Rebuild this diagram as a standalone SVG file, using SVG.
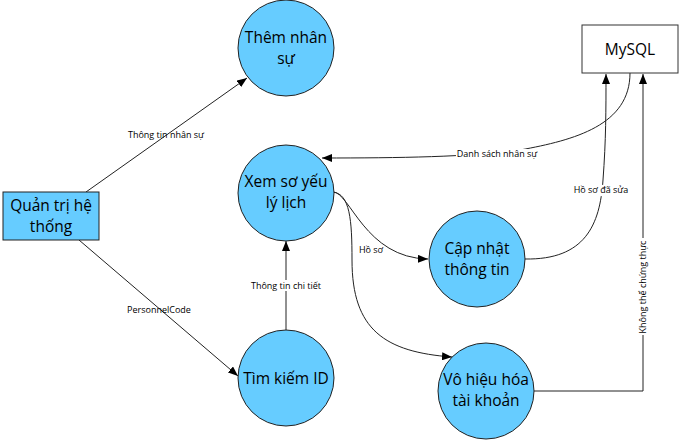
<svg xmlns="http://www.w3.org/2000/svg" width="679" height="440" viewBox="0 0 679 440">
<style>
.proc{fill:#66CCFF;stroke:#222;stroke-width:1}
.ext{fill:#66CCFF;stroke:#222;stroke-width:1}
.store{fill:#fff;stroke:#333;stroke-width:1}
.nt{font-family:"Open Sans","Noto Sans",sans-serif;font-size:15.5px;fill:#000;text-anchor:middle}
.lt{font-family:"Open Sans","Noto Sans",sans-serif;font-size:9px;fill:#000;text-anchor:middle}
.edge{fill:none;stroke:#222;stroke-width:1;marker-end:url(#arr)}
.bg{fill:#fff}
</style>
<defs>
<marker id="arr" viewBox="0 0 10 8" refX="10" refY="4" markerWidth="10" markerHeight="8" markerUnits="userSpaceOnUse" orient="auto">
<path d="M0,0 L10,4 L0,8 z" fill="#000"/>
</marker>
</defs>
<rect width="679" height="440" fill="#fff"/>
<g id="connectors">
<path class="edge" d="M86,192 L247,78"/>
<path class="edge" d="M79,240 L238,376"/>
<path class="edge" d="M286,331 L286,241"/>
<path class="edge" d="M630,73 C630,125 575,140 520,150 C470,157 400,158 322,158"/>
<path class="edge" d="M333,192 C350,192 365,258 428,259"/>
<path class="edge" d="M333,192 C350,194 352,220 352,260 C352,330 385,352 452,357"/>
<path class="edge" d="M525,259 C585,260 600,225 603,180 C606,140 606,110 606,74"/>
<path class="edge" d="M534,391 L643,391 L643,74"/>
<g id="edge-labels">
<text class="lt" x="166" y="138">Thông tin nhân sự</text>
<text class="lt" x="159" y="313">PersonnelCode</text>
<rect class="bg" x="247" y="280" width="78" height="11"/>
<text class="lt" x="286" y="289">Thông tin chi tiết</text>
<rect class="bg" x="456" y="149" width="82" height="11"/>
<text class="lt" x="497" y="157">Danh sách nhân sự</text>
<text class="lt" x="371" y="253">Hồ sơ</text>
<rect class="bg" x="572" y="185" width="58" height="11"/>
<text class="lt" x="601" y="193">Hồ sơ đã sửa</text>
<rect class="bg" x="638" y="238" width="11" height="97"/>
<text class="lt" transform="translate(646,287) rotate(-90)">Không thể chứng thực</text>
</g>
</g>
<g id="node-admin">
<rect class="ext" x="3" y="192" width="96" height="48"/>
<text class="nt" x="51" y="211">Quản trị hệ</text>
<text class="nt" x="51" y="232">thống</text>
</g>
<g id="node-mysql">
<rect class="store" x="582" y="25" width="96" height="48"/>
<text class="nt" x="630" y="55" fill="#0a1a3a">MySQL</text>
</g>
<g id="node-them">
<circle class="proc" cx="286" cy="48" r="48"/>
<text class="nt" x="286" y="43">Thêm nhân</text>
<text class="nt" x="286" y="64">sự</text>
</g>
<g id="node-xem">
<circle class="proc" cx="286" cy="193" r="48"/>
<text class="nt" x="286" y="187">Xem sơ yếu</text>
<text class="nt" x="286" y="208">lý lịch</text>
</g>
<g id="node-tim">
<circle class="proc" cx="286" cy="378" r="48"/>
<text class="nt" x="286" y="384">Tìm kiếm ID</text>
</g>
<g id="node-capnhat">
<circle class="proc" cx="477" cy="259" r="48"/>
<text class="nt" x="477" y="254">Cập nhật</text>
<text class="nt" x="477" y="275">thông tin</text>
</g>
<g id="node-vohieu">
<circle class="proc" cx="486" cy="391" r="48"/>
<text class="nt" x="486" y="385">Vô hiệu hóa</text>
<text class="nt" x="486" y="406">tài khoản</text>
</g>
</svg>
